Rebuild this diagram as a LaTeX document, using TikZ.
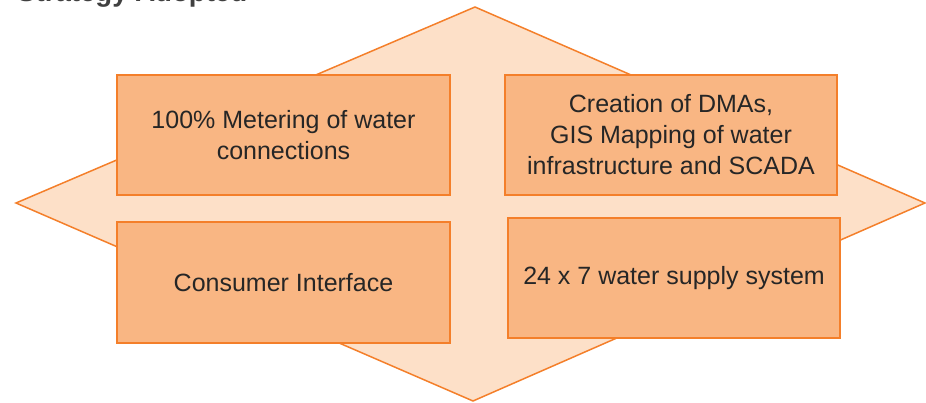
\documentclass[tikz,border=0pt]{standalone}
\usepackage{fontspec}
\setmainfont{Liberation Sans}
\definecolor{edgeorange}{HTML}{F47F2A}
\definecolor{diamondfill}{HTML}{FDE0C8}
\definecolor{boxfill}{HTML}{F9B683}
\definecolor{textgrey}{HTML}{262626}
\definecolor{titlegrey}{HTML}{404040}
\tikzset{
  taskbox/.style={draw=edgeorange, line width=1.5pt, fill=boxfill,
    minimum width=333pt, minimum height=120pt, inner sep=0pt,
    align=center, text=textgrey, font=\fontsize{25}{31}\selectfont}
}
\begin{document}
\begin{tikzpicture}[x=1pt,y=-1pt]
    \useasboundingbox (0,0) rectangle (926,403);
    \node [anchor=base west, inner sep=0pt, text=titlegrey, font=\bfseries\fontsize{27.6}{33}\selectfont] (title) at (17,1.5) {Strategy Adopted};
    \coordinate (top) at (475,7);
    \coordinate (left) at (16,203);
    \coordinate (right) at (925,203);
    \coordinate (bottom) at (473,401);
    \draw [edgeorange, line width=1.5pt, fill=diamondfill, line join=miter] (top) -- (right) -- (bottom) -- (left) -- cycle;
    \node [taskbox] (metering) at (283.5,135) {100\% Metering of water\\connections};
    \node [taskbox, minimum width=332pt] (dmas) at (671,135) {Creation of DMAs,\\GIS Mapping of water\\infrastructure and SCADA};
    \node [taskbox, minimum height=121pt] (consumer) at (283.5,282.5) {Consumer Interface};
    \node [taskbox, minimum width=332pt] (supply) at (674,278) {24 x 7 water supply system};
\end{tikzpicture}
\end{document}
